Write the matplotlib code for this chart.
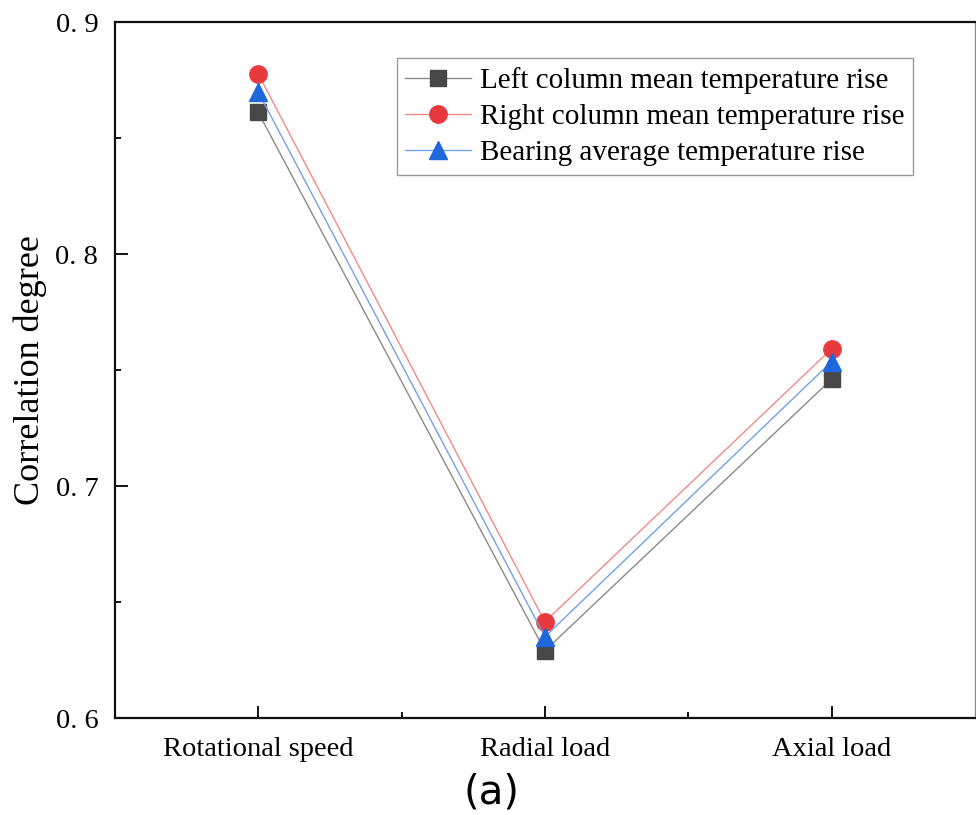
import matplotlib
matplotlib.use("Agg")
import matplotlib.pyplot as plt
from matplotlib.ticker import FixedLocator, MultipleLocator, FuncFormatter

categories = ["Rotational speed", "Radial load", "Axial load"]
left_col = [0.861, 0.629, 0.746]
right_col = [0.8776, 0.6415, 0.7591]
bearing_avg = [0.8698, 0.6350, 0.7536]
series_names = ["Left column mean temperature rise",
                "Right column mean temperature rise",
                "Bearing average temperature rise"]
yticks = [0.6, 0.7, 0.8, 0.9]

plt.rcParams['font.family'] = ['Liberation Serif', 'DejaVu Serif']

fig = plt.figure(figsize=(9.76, 8.15), dpi=100)
ax = fig.add_axes([0.1178, 0.119, 0.881, 0.854])

x = list(range(len(categories)))
ax.plot(x, left_col, color="#8a8a8a", lw=1.0, marker="s", ms=11,
        mfc="#474747", mec="#474747", label=series_names[0], zorder=3)
ax.plot(x, right_col, color="#f08a8a", lw=1.0, marker="o", ms=12.5,
        mfc="#e83a3e", mec="#e83a3e", label=series_names[1], zorder=3)
ax.plot(x, bearing_avg, color="#72a2e6", lw=1.0, marker="^", ms=13,
        mfc="#1f68dc", mec="#1f68dc", label=series_names[2], zorder=4)

ax.set_xlim(-0.5, 2.5)
ax.set_ylim(0.6, 0.9)
ax.set_xticks(x)
ax.set_xticklabels(categories, fontsize=20.5)
ax.xaxis.set_minor_locator(FixedLocator([0.5, 1.5]))
ax.set_yticks(yticks)
ax.yaxis.set_major_formatter(FuncFormatter(lambda v, p: ("%.1f" % v).replace(".", ". ")))
ax.yaxis.set_minor_locator(MultipleLocator(0.05))
for lab in ax.get_yticklabels():
    lab.set_fontsize(20.5)

ax.tick_params(axis='both', which='major', direction='in', length=9, width=1.3)
ax.tick_params(axis='both', which='minor', direction='in', length=4.5, width=1.3)
ax.tick_params(axis='x', which='major', pad=14)
ax.tick_params(axis='y', which='major', pad=12)
ax.tick_params(right=False, top=False, which='both')

for k in ['left', 'bottom', 'top']:
    ax.spines[k].set_linewidth(1.6)
    ax.spines[k].set_color('#111111')
ax.spines['right'].set_linewidth(1.0)
ax.spines['right'].set_color('#8c8c8c')

ax.set_ylabel("Correlation degree", fontsize=26, labelpad=6)

leg = ax.legend(loc="upper right", bbox_to_anchor=(0.928, 0.948), fontsize=21,
                frameon=True, fancybox=False, edgecolor="#808080",
                handlelength=2.25, handletextpad=0.3, borderpad=0.3,
                borderaxespad=0.0, labelspacing=0.33)
leg.get_frame().set_linewidth(1.0)

fig.text(0.504, 0.028, "(a)", fontsize=29, family="DejaVu Sans",
         ha="center", va="center")

fig.savefig("out.png", dpi=100)
